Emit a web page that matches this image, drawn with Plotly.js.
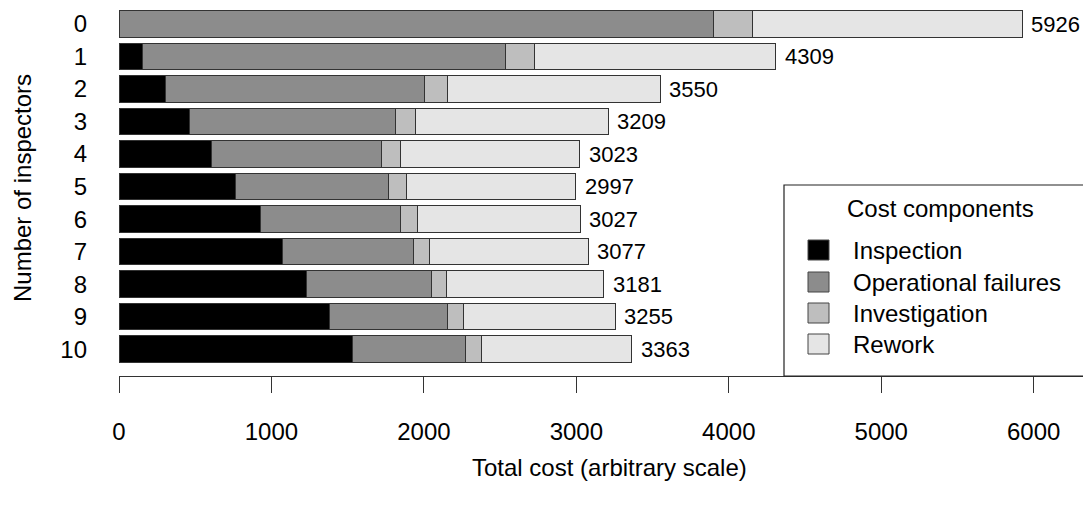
<!DOCTYPE html>
<html>
<head>
<meta charset="utf-8">
<script src="https://cdn.plot.ly/plotly-3.0.1.min.js"></script>
<style>html,body{margin:0;padding:0;background:#fff;}#chart{width:1083px;height:511px;}</style>
</head>
<body>
<div id="chart"></div>
<script>
// Data
const inspectors = [0, 1, 2, 3, 4, 5, 6, 7, 8, 9, 10];
const inspection = [0, 155, 306, 461, 610, 763, 925, 1072, 1227, 1380, 1531];
const operationalFailures = [3898, 2378, 1695, 1350, 1113, 1006, 923, 859, 820, 776, 744];
const investigation = [257, 190, 153, 133, 121, 114, 110, 105, 103, 103, 105];
const rework = [1771, 1586, 1396, 1265, 1179, 1114, 1069, 1041, 1031, 996, 983];
const totals = [5926, 4309, 3550, 3209, 3023, 2997, 3027, 3077, 3181, 3255, 3363];
const seriesNames = ["Inspection", "Operational failures", "Investigation", "Rework"];
const seriesColors = ["#000000", "#8c8c8c", "#bebebe", "#e5e5e5"];
const xTicks = [0, 1000, 2000, 3000, 4000, 5000, 6000];

const FONT = "Liberation Sans, Arial, sans-serif";
const FS = 24;
const W = 1083, H = 511;
const L = 119, T = 0, B = 135, R = 0;
const PW = W - L - R, PH = H - T - B;
const px2x = p => (p - L) / PW;
const px2y = p => (T + PH - p) / PH;

const seriesValues = [inspection, operationalFailures, investigation, rework];
const traces = seriesValues.map((vals, i) => ({
  type: "bar",
  orientation: "h",
  name: seriesNames[i],
  x: vals,
  y: inspectors,
  width: 0.818,
  marker: { color: seriesColors[i], line: { color: "#333333", width: 1 } },
  showlegend: false,
  hoverinfo: "x+name"
}));

const annotations = totals.map((t, i) => ({
  x: t, y: inspectors[i], xref: "x", yref: "y",
  text: String(t), showarrow: false, xanchor: "left", yanchor: "middle",
  xshift: 7, font: { family: FONT, size: 22, color: "#000" }
}));

// axis titles
annotations.push({
  xref: "paper", yref: "paper", x: px2x(609), y: px2y(467),
  text: "Total cost (arbitrary scale)", showarrow: false,
  xanchor: "center", yanchor: "middle", font: { family: FONT, size: FS, color: "#000" }
});
annotations.push({
  xref: "paper", yref: "paper", x: px2x(22), y: px2y(188),
  text: "Number of inspectors", showarrow: false, textangle: -90,
  xanchor: "center", yanchor: "middle", font: { family: FONT, size: FS, color: "#000" }
});

// manual legend
const shapes = [{
  type: "rect", xref: "paper", yref: "paper",
  x0: px2x(784), x1: px2x(1095), y0: px2y(376), y1: px2y(185),
  line: { color: "#222", width: 1.2 }, fillcolor: "rgba(255,255,255,1)", layer: "above"
}];
annotations.push({
  xref: "paper", yref: "paper", x: px2x(940), y: px2y(208),
  text: "Cost components", showarrow: false, xanchor: "center", yanchor: "middle",
  font: { family: FONT, size: FS, color: "#000" }
});
const legendY = [250, 282, 313, 344];
seriesNames.forEach((n, i) => {
  shapes.push({
    type: "rect", xref: "paper", yref: "paper",
    x0: px2x(808), x1: px2x(829), y0: px2y(legendY[i] + 10), y1: px2y(legendY[i] - 10),
    fillcolor: seriesColors[i], line: { color: "#444", width: 1 }, layer: "above"
  });
  annotations.push({
    xref: "paper", yref: "paper", x: px2x(851), y: px2y(legendY[i]),
    text: n, showarrow: false, xanchor: "left", yanchor: "middle",
    font: { family: FONT, size: FS, color: "#000" }
  });
});

const layout = {
  width: W, height: H,
  margin: { l: L, r: R, t: T, b: B, pad: 0 },
  paper_bgcolor: "#fff", plot_bgcolor: "#fff",
  barmode: "stack",
  showlegend: false,
  font: { family: FONT, size: FS, color: "#000" },
  xaxis: {
    range: [0, PW / 0.15245],
    tickvals: xTicks, ticktext: xTicks.map(String),
    ticks: "outside", ticklen: 16, tickcolor: "#333", tickwidth: 1,
    showline: true, linecolor: "#333", linewidth: 1,
    showgrid: false, zeroline: false,
    ticklabelstandoff: 18,
    tickfont: { family: FONT, size: FS, color: "#000" }
  },
  yaxis: {
    range: [10.824, -0.738],
    tickvals: inspectors, ticktext: inspectors.map(String),
    ticks: "", showline: false, showgrid: false, zeroline: false,
    ticklabelstandoff: 31,
    tickfont: { family: FONT, size: FS, color: "#000" }
  },
  annotations: annotations,
  shapes: shapes
};

Plotly.newPlot("chart", traces, layout, { displayModeBar: false, staticPlot: true });
</script>
</body>
</html>
